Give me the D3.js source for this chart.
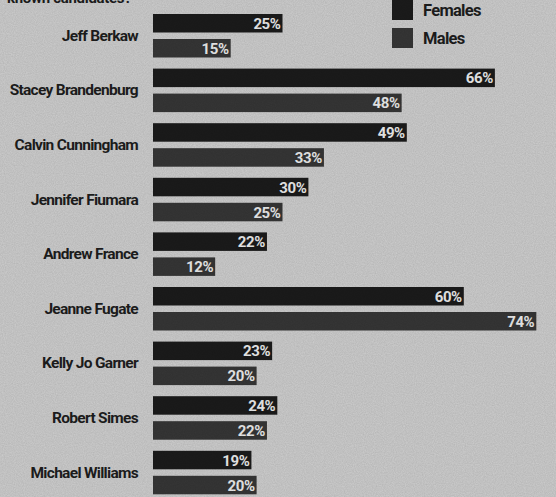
<!DOCTYPE html>
<html>
<head>
<meta charset="utf-8">
<script src="https://cdn.jsdelivr.net/npm/d3@7"></script>
<style>
  html, body { margin: 0; padding: 0; background: #cbcbcb; }
  svg { display: block; }
  text { font-family: Roboto, "Liberation Sans", sans-serif; }
</style>
</head>
<body>
<svg id="chart"></svg>
<script>
var W = 556, H = 497;

// data
var candidates = ['Jeff Berkaw', 'Stacey Brandenburg', 'Calvin Cunningham', 'Jennifer Fiumara',
                  'Andrew France', 'Jeanne Fugate', 'Kelly Jo Garner', 'Robert Simes', 'Michael Williams'];
var series = ['Females', 'Males'];
var females = [25, 66, 49, 30, 22, 60, 23, 24, 19];
var males   = [15, 48, 33, 25, 12, 74, 20, 22, 20];

var color_bg = '#cdcdcd',
    color_text = '#1d1d1d',
    color_f = '#1b1b1b',
    color_m = '#363636';

var svg = d3.select('#chart')
            .attr('width', W)
            .attr('height', H);

// newsprint grain
var defs = svg.append('defs');
var grain = defs.append('filter').attr('id', 'grain')
                .attr('x', 0).attr('y', 0).attr('width', '100%').attr('height', '100%');
grain.append('feTurbulence')
     .attr('type', 'fractalNoise')
     .attr('baseFrequency', 0.9)
     .attr('numOctaves', 2)
     .attr('seed', 3);
grain.append('feColorMatrix')
     .attr('type', 'matrix')
     .attr('values', '0 0 0 0 0  0 0 0 0 0  0 0 0 0 0  0 0 0 0.12 0');
grain.append('feComposite').attr('operator', 'in').attr('in2', 'SourceGraphic');

svg.append('rect')
   .attr('width', W).attr('height', H)
   .attr('fill', color_bg);

var x = d3.scaleLinear().domain([0, 100]).range([153, 671]);

var y = d3.scaleBand()
          .domain(candidates)
          .range([14, 14 + 9 * 54.6])
          .padding(0);

var ySub = d3.scaleBand()
             .domain(series)
             .range([0, 43.5])
             .paddingInner(0.26)
             .paddingOuter(0);

var colorOf = d3.scaleOrdinal().domain(series).range([color_f, color_m]);

// tail of the question, cut off by the frame
svg.append('text')
   .attr('x', 7).attr('y', 3)
   .attr('font-size', 15).attr('font-weight', 700)
   .attr('letter-spacing', '-0.3px')
   .attr('fill', color_text)
   .text('known candidates?');

var rows = candidates.map(function(name, i){
    return {name: name, values: [
        {key: 'Females', v: females[i]},
        {key: 'Males', v: males[i]}
    ]};
});

var g = svg.selectAll('g.row')
           .data(rows)
           .enter().append('g')
           .attr('class', 'row')
           .attr('transform', d => 'translate(0,' + y(d.name) + ')');

g.append('text')
 .attr('x', 138)
 .attr('y', ySub.range()[1] / 2 + 5)
 .attr('text-anchor', 'end')
 .attr('font-size', 15.5)
 .attr('font-weight', 700)
 .attr('letter-spacing', '-0.7px')
 .attr('fill', color_text)
 .text(d => d.name);

var bars = g.selectAll('g.bar')
            .data(d => d.values)
            .enter().append('g')
            .attr('class', 'bar');

bars.append('rect')
    .attr('x', x(0))
    .attr('y', d => ySub(d.key))
    .attr('width', d => x(d.v) - x(0))
    .attr('height', ySub.bandwidth())
    .attr('fill', d => colorOf(d.key));

bars.append('text')
    .attr('x', d => x(d.v) - 2)
    .attr('y', d => ySub(d.key) + ySub.bandwidth() / 2 + 5.5)
    .attr('text-anchor', 'end')
    .attr('font-size', 15)
    .attr('font-weight', 700)
    .attr('letter-spacing', '-0.4px')
    .attr('fill', '#ececec')
    .text(d => d.v + '%');

// legend
var legend = svg.selectAll('g.legend')
                .data(series)
                .enter().append('g')
                .attr('class', 'legend')
                .attr('transform', (d, i) => 'translate(392,' + (i * 28) + ')');

legend.append('rect')
      .attr('x', 0).attr('y', 0)
      .attr('width', 21).attr('height', 20)
      .attr('fill', d => colorOf(d));

legend.append('text')
      .attr('x', 31).attr('y', 16)
      .attr('font-size', 16.5)
      .attr('font-weight', 700)
      .attr('letter-spacing', '-0.7px')
      .attr('fill', color_text)
      .text(d => d);

svg.append('rect')
   .attr('width', W).attr('height', H)
   .attr('fill', '#888')
   .attr('filter', 'url(#grain)')
   .style('pointer-events', 'none');
</script>
</body>
</html>
